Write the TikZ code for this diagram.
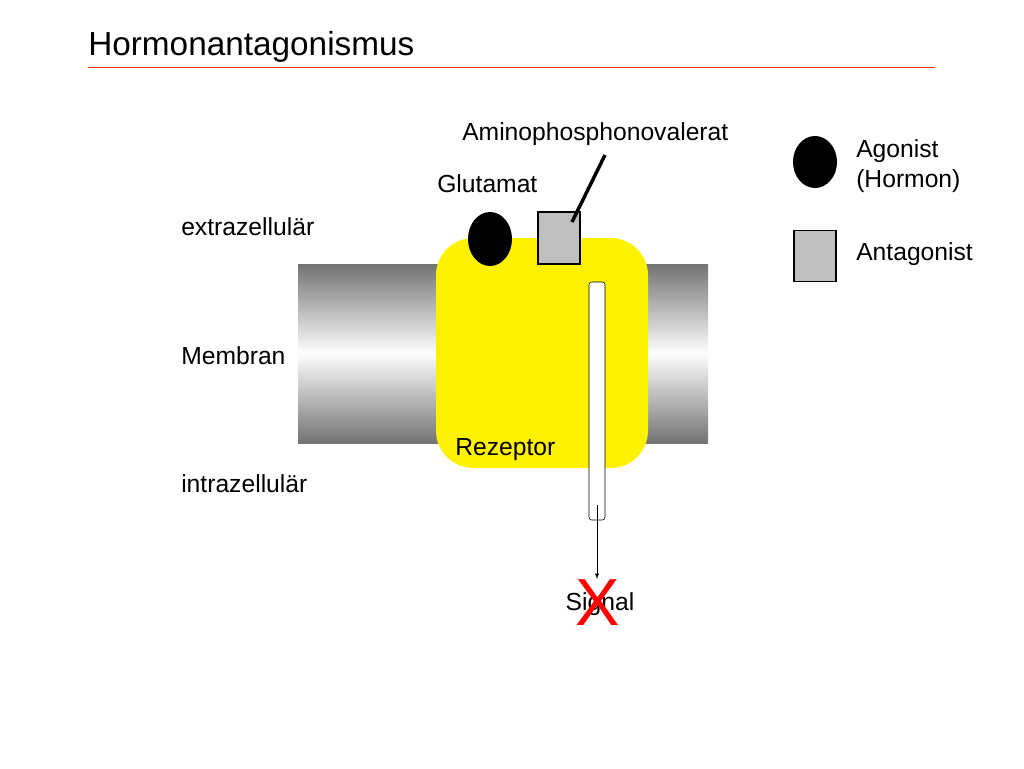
\documentclass[tikz,border=0pt]{standalone}
\usepackage{fontspec}
\usetikzlibrary{shapes.geometric}
\setmainfont{Liberation Sans}
\begin{document}
\begin{tikzpicture}[x=0.75pt,y=-0.75pt,
  lbl/.style={anchor=west,inner sep=0pt,font=\fontsize{18.5}{22}\selectfont},
  grayblk/.style={draw=black,fill=black!25,line width=0.8pt}]
\useasboundingbox (0,0) rectangle (1024,768);
\node[lbl,anchor=base west,font=\fontsize{25}{28}\selectfont] (title) at (88,55) {Hormonantagonismus};
\draw[red!70!orange,line width=0.5pt] (88,67) -- (935,67);
% membrane
\shade[top color=black!55,bottom color=white] (298,264) rectangle (708,354);
\shade[top color=white,bottom color=black!55] (298,353) rectangle (708,443);
% receptor
\node[draw=none,fill=yellow,rounded corners=28pt,minimum width=212*0.75pt,minimum height=230*0.75pt,inner sep=0pt] (rez) at (542,353) {};
\node[draw=black,fill=white,rounded corners=2pt,minimum width=16*0.75pt,minimum height=238*0.75pt,inner sep=0pt] (tube) at (597,401) {};
\node[ellipse,fill=black,minimum width=44*0.75pt,minimum height=54*0.75pt,inner sep=0pt] (glu) at (490,239) {};
\node[grayblk,minimum width=42*0.75pt,minimum height=52*0.75pt,inner sep=0pt] (apv) at (559,238) {};
\coordinate (ptr) at (605,155);
\draw[line width=2.6pt] (ptr) -- (572,222);
\node[lbl] (apvl) at (462,134) {Aminophosphonovalerat};
\node[lbl] (glul) at (437,184) {Glutamat};
\node[lbl] (rezl) at (455,450) {Rezeptor};
\node[lbl] (ex) at (181,227) {extrazellulär};
\node[lbl] (mem) at (181,356) {Membran};
\node[lbl] (in) at (181,484) {intrazellulär};
\node[lbl,anchor=center] (sig) at (600,604) {Signal};
\coordinate (ts) at (597,505);
\draw[-latex] (ts) -- (597,579);
\node[text=red,inner sep=0pt,font=\fontsize{50}{50}\selectfont] (x) at (598,603) {X};
% legend
\node[ellipse,fill=black,minimum width=44*0.75pt,minimum height=52*0.75pt,inner sep=0pt] (lag) at (815,162) {};
\node[grayblk,minimum width=42*0.75pt,minimum height=51*0.75pt,inner sep=0pt] (lan) at (815,256) {};
\node[lbl,align=left] (lagl) at (856,166) {Agonist\\(Hormon)};
\node[lbl] (lanl) at (856,254) {Antagonist};
\end{tikzpicture}
\end{document}
